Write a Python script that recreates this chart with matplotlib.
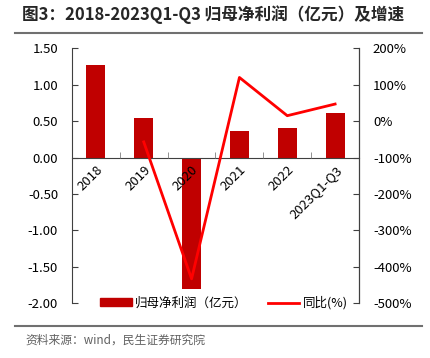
import matplotlib
matplotlib.use("Agg")
import matplotlib.pyplot as plt
from matplotlib.ticker import FixedLocator, FuncFormatter
from matplotlib.lines import Line2D
from matplotlib.patches import Patch

plt.rcParams['font.family'] = ['Noto Sans CJK SC', 'DejaVu Sans']

years = ['2018', '2019', '2020', '2021', '2022', '2023Q1-Q3']
profit = [1.27, 0.54, -1.81, 0.36, 0.41, 0.61]      # 亿元
growth = [None, -57, -433, 120, 15, 47]               # %

bar_color = '#C00000'
line_color = '#FF0000'

fig = plt.figure(figsize=(4.31, 3.58), dpi=100)
ax = fig.add_axes([0.167, 0.153, 0.666, 0.712])
ax2 = ax.twinx()

x = list(range(len(years)))
ax.bar(x, profit, width=0.4, color=bar_color, zorder=1)
ax.set_axisbelow(False)  # tick labels drawn over the bars
gx = [i for i, g in zip(x, growth) if g is not None]
gy = [g for g in growth if g is not None]
ax2.plot(gx, gy, color=line_color, lw=2, zorder=3)

ax.set_xlim(-0.5, len(years) - 0.5)
ax.set_ylim(-2.0, 1.5)
ax2.set_ylim(-500, 200)
ax.set_yticks([1.5, 1.0, 0.5, 0.0, -0.5, -1.0, -1.5, -2.0])
ax.yaxis.set_major_formatter(FuncFormatter(lambda v, p: f'{v:.2f}'))
ax2.set_yticks(range(-500, 201, 100))
ax2.yaxis.set_major_formatter(FuncFormatter(lambda v, p: f'{v:.0f}%'))

ax.spines['bottom'].set_position(('data', 0))
ax.spines['top'].set_visible(False)
ax2.spines['top'].set_visible(False)
ax2.spines['bottom'].set_visible(False)
ax2.spines['left'].set_visible(False)
for s in ('left', 'bottom'):
    ax.spines[s].set_color('#404040')
ax2.spines['right'].set_color('#404040')

ax.set_xticks(x)
ax.set_xticklabels(years, rotation=45, ha='right', va='top', rotation_mode='anchor')
ax.tick_params(axis='x', which='major', length=0, pad=4, labelsize=9.5)
ax.xaxis.set_minor_locator(FixedLocator([i + 0.5 for i in x[:-1]]))
ax.tick_params(axis='x', which='minor', direction='in', length=4, color='#808080')
ax.tick_params(axis='y', direction='in', length=4, labelsize=9.5, color='#404040', pad=10)
ax2.tick_params(axis='y', direction='in', length=4, labelsize=9.5, color='#404040', pad=10)

handles = [Patch(color=bar_color), Line2D([0], [0], color=line_color, lw=2)]
ax.legend(handles, ['归母净利润（亿元）', '同比(%)'], loc='lower center',
          bbox_to_anchor=(0.53, -0.07), ncol=2, frameon=False, fontsize=9,
          handlelength=2.5, handleheight=0.6, columnspacing=1.6, handletextpad=0.3)

fig.text(0.05, 0.958, '图3：2018-2023Q1-Q3 归母净利润（亿元）及增速',
         fontsize=12, fontweight='bold', color='#262626', va='center')
fig.add_artist(Line2D([0.035, 0.978], [0.908, 0.908], color='#707070', lw=1.5))
fig.add_artist(Line2D([0.035, 0.978], [0.088, 0.088], color='#707070', lw=1.5))
fig.text(0.058, 0.05, '资料来源：wind，民生证券研究院', fontsize=8.5, color='#606060', va='center')

fig.savefig('out.png', dpi=100)
